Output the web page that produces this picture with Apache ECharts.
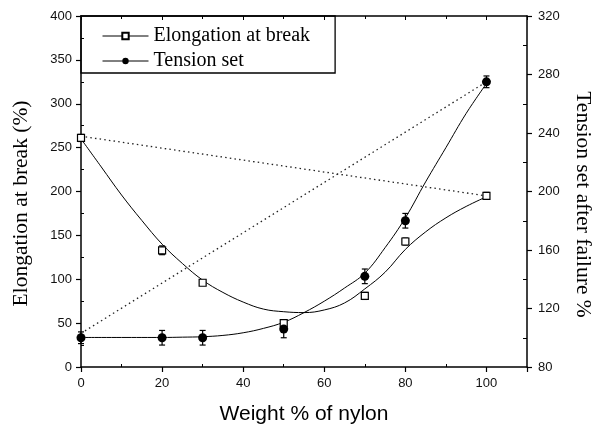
<!DOCTYPE html>
<html>
<head>
<meta charset="utf-8">
<script src="https://cdn.jsdelivr.net/npm/echarts@6/dist/echarts.min.js"></script>
<style>html,body{margin:0;padding:0;background:#fff}#c{width:592px;height:429px}</style>
</head>
<body>
<div id="c"></div>
<script>
// ---- data ----
const nylon = [0, 20, 30, 50, 70, 80, 100];
const elongation = [261, 133, 96, 50, 81, 143, 195];
const elongationErr = [4, 5, 3, 3, 4, 4, 4];
const tensionSet = [100, 100, 100, 106, 142, 180, 275];
const tensionErr = [4, 5, 5, 6, 5, 5, 4];

// fitted curves
const fitX = [0, 5, 10, 15, 20, 25, 30, 35, 40, 45, 50, 55, 60, 65, 70, 75, 80, 85, 90, 95, 100];
const elongationFit = [260, 228, 196, 167, 140, 118, 99, 85, 74, 66, 63, 62, 65, 73, 89, 108, 134, 154, 170, 183, 194];
const tensionFit = [100.2, 100.2, 100.2, 100.2, 100.2, 100.4, 100.7, 101.6, 103.4, 106.4, 110.6, 117.2, 125, 134, 144.2, 161.6, 182, 206.6, 230, 253.4, 273.8];

// dotted straight lines (end points)
const elongationLineX = [0, 100];
const elongationLineY = [263, 195];
const tensionLineX = [0, 100];
const tensionLineY = [103, 275];

const xTicks = [0, 20, 40, 60, 80, 100];
const leftTicks = [0, 50, 100, 150, 200, 250, 300, 350, 400];
const rightTicks = [80, 120, 160, 200, 240, 280, 320];

const zip = (a, b) => a.map((v, i) => [v, b[i]]);
const zip3 = (a, b, c) => a.map((v, i) => [v, b[i], c[i]]);

const chart = echarts.init(document.getElementById('c'), null, {renderer: 'canvas'});
const sans = 'Liberation Sans';
const serif = 'Liberation Serif';
const lineCol = '#000';

function errBar(params, api) {
  const x = api.value(0), y = api.value(1), e = api.value(2);
  const lo = api.coord([x, y - e]);
  const hi = api.coord([x, y + e]);
  const w = 3;
  const st = {stroke: '#000', lineWidth: 1.2};
  return {
    type: 'group',
    children: [
      {type: 'line', shape: {x1: lo[0], y1: lo[1], x2: hi[0], y2: hi[1]}, style: st},
      {type: 'line', shape: {x1: lo[0] - w, y1: lo[1], x2: lo[0] + w, y2: lo[1]}, style: st},
      {type: 'line', shape: {x1: hi[0] - w, y1: hi[1], x2: hi[0] + w, y2: hi[1]}, style: st}
    ]
  };
}

const axisLine = {show: true, onZero: false, lineStyle: {color: lineCol, width: 1.5}};
const noLine = {show: false, onZero: false};

const option = {
  animation: false,
  backgroundColor: '#fff',
  grid: {left: 81, right: 65, top: 16, bottom: 62, containLabel: false, outerBoundsMode: 'none'},
  legend: {
    left: 81, top: 16, orient: 'vertical',
    padding: [10, 25, 2, 21], itemGap: 5, itemWidth: 46, itemHeight: 8,
    borderColor: '#000', borderWidth: 1.3,
    textStyle: {fontFamily: serif, fontSize: 20, color: '#000'},
    lineStyle: {color: '#000', width: 1, opacity: 1, type: 'solid'},
    data: ['Elongation at break', 'Tension set']
  },
  xAxis: [
    {
      type: 'value', min: 0, max: 110, interval: 20, position: 'bottom',
      name: 'Weight % of nylon', nameLocation: 'middle', nameGap: 37,
      nameTextStyle: {fontFamily: sans, fontSize: 21, color: '#000'},
      axisLine: axisLine,
      axisTick: {show: true, inside: false, length: 5, lineStyle: {color: lineCol, width: 1.2}},
      minorTick: {show: false},
      splitLine: {show: false},
      axisLabel: {margin: 10, fontFamily: sans, fontSize: 13, color: '#111',
        formatter: v => xTicks.indexOf(v) >= 0 ? String(v) : ''}
    },
    {
      type: 'value', min: 0, max: 110, interval: 20, position: 'top',
      axisLine: axisLine,
      axisTick: {show: true, inside: true, length: 4, lineStyle: {color: lineCol, width: 1}},
      minorTick: {show: true, splitNumber: 2, length: 3, lineStyle: {color: lineCol, width: 1}},
      splitLine: {show: false}, axisLabel: {show: false}
    },
    {
      type: 'value', min: 0, max: 110, interval: 20, position: 'bottom',
      axisLine: noLine,
      axisTick: {show: false, inside: true},
      minorTick: {show: true, splitNumber: 2, length: 3, lineStyle: {color: lineCol, width: 1}},
      splitLine: {show: false}, axisLabel: {show: false}
    }
  ],
  yAxis: [
    {
      type: 'value', min: 0, max: 400, interval: 50, position: 'left',
      name: 'Elongation at break (%)', nameLocation: 'middle', nameGap: 49,
      nameTextStyle: {fontFamily: serif, fontSize: 21.5, color: '#000', padding: [0, 24, 0, 0]},
      axisLine: axisLine,
      axisTick: {show: true, inside: false, length: 5, lineStyle: {color: lineCol, width: 1.2}},
      splitLine: {show: false},
      axisLabel: {margin: 9, fontFamily: sans, fontSize: 13, color: '#111',
        formatter: v => leftTicks.indexOf(v) >= 0 ? String(v) : ''}
    },
    {
      type: 'value', min: 80, max: 320, interval: 40, position: 'right',
      name: 'Tension set after failure %', nameLocation: 'middle', nameGap: 45, nameRotate: -90,
      nameTextStyle: {fontFamily: serif, fontSize: 21.5, color: '#000', padding: [0, 0, 0, 26]},
      axisLine: axisLine,
      axisTick: {show: true, inside: false, length: 5, lineStyle: {color: lineCol, width: 1.2}},
      splitLine: {show: false},
      axisLabel: {margin: 11, fontFamily: sans, fontSize: 13, color: '#111',
        formatter: v => rightTicks.indexOf(v) >= 0 ? String(v) : ''}
    },
    {
      type: 'value', min: 0, max: 400, interval: 50, position: 'left',
      axisLine: noLine, axisTick: {show: false, inside: true},
      minorTick: {show: true, splitNumber: 2, length: 3, lineStyle: {color: lineCol, width: 1}},
      splitLine: {show: false}, axisLabel: {show: false}
    },
    {
      type: 'value', min: 80, max: 320, interval: 40, position: 'right',
      axisLine: noLine, axisTick: {show: false, inside: true},
      minorTick: {show: true, splitNumber: 2, length: 4, lineStyle: {color: lineCol, width: 1}},
      splitLine: {show: false}, axisLabel: {show: false}
    }
  ],
  series: [
    {
      type: 'line', name: 'elongLine', data: zip(elongationLineX, elongationLineY),
      showSymbol: false, symbol: 'none', silent: true,
      lineStyle: {color: '#222', width: 1.3, type: [1.5, 3.2]}
    },
    {
      type: 'line', name: 'tensionLine', yAxisIndex: 1, data: zip(tensionLineX, tensionLineY),
      showSymbol: false, symbol: 'none', silent: true,
      lineStyle: {color: '#222', width: 1.3, type: [1.5, 3.2]}
    },
    {
      type: 'line', name: 'elongFit', data: zip(fitX, elongationFit), smooth: 0.4,
      showSymbol: false, symbol: 'none', silent: true,
      lineStyle: {color: '#000', width: 1}
    },
    {
      type: 'line', name: 'tensionFit', yAxisIndex: 1, data: zip(fitX, tensionFit), smooth: 0.4,
      showSymbol: false, symbol: 'none', silent: true,
      lineStyle: {color: '#000', width: 1}
    },
    {
      type: 'custom', name: 'elongErr', renderItem: errBar, data: zip3(nylon, elongation, elongationErr),
      encode: {x: 0, y: 1}, silent: true, z: 3
    },
    {
      type: 'custom', name: 'tensionErr', yAxisIndex: 1, renderItem: errBar, data: zip3(nylon, tensionSet, tensionErr),
      encode: {x: 0, y: 1}, silent: true, z: 3
    },
    {
      type: 'line', name: 'Elongation at break', data: zip(nylon, elongation),
      symbol: 'rect', symbolSize: 7, showSymbol: true, z: 5,
      lineStyle: {opacity: 0, width: 0},
      itemStyle: {color: '#fff', borderColor: '#000', borderWidth: 1.2}
    },
    {
      type: 'line', name: 'Tension set', yAxisIndex: 1, data: zip(nylon, tensionSet),
      symbol: 'circle', symbolSize: 9, showSymbol: true, z: 5,
      lineStyle: {opacity: 0, width: 0},
      itemStyle: {color: '#000', borderColor: '#000', borderWidth: 0}
    }
  ]
};
chart.setOption(option);
</script>
</body>
</html>
